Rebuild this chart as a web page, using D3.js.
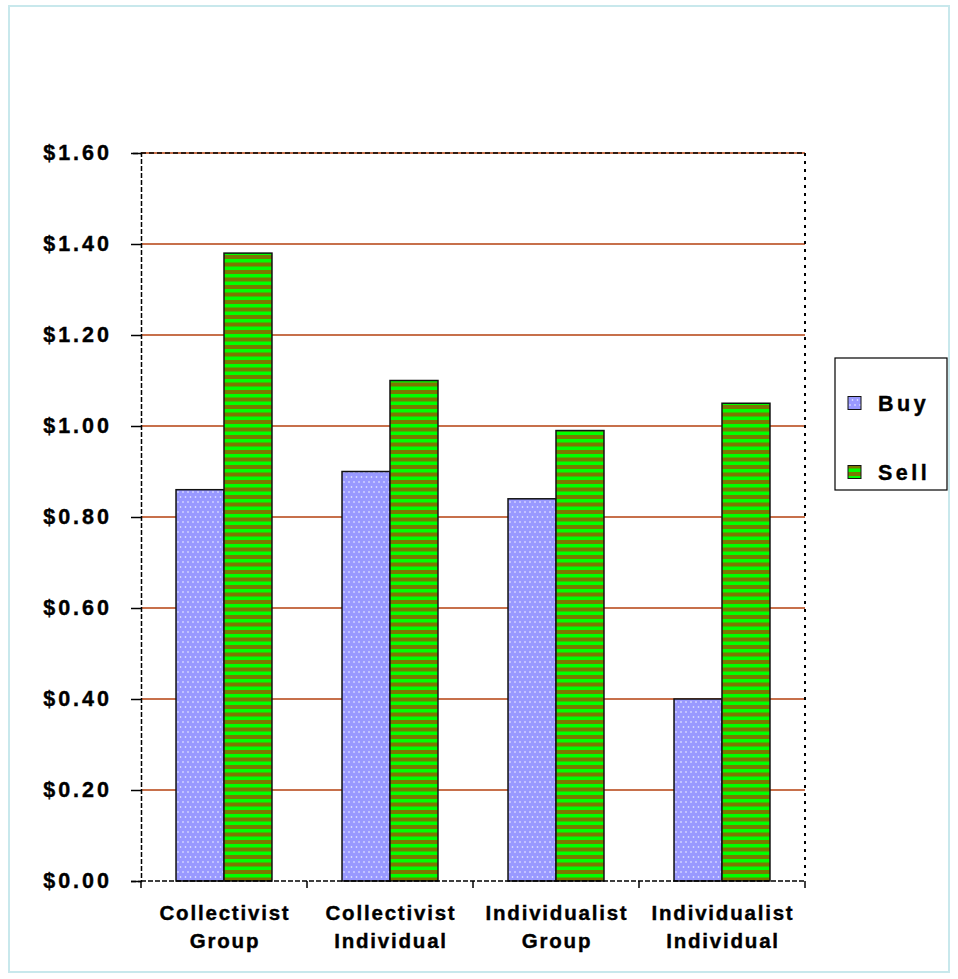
<!DOCTYPE html>
<html>
<head>
<meta charset="utf-8">
<script src="https://cdn.jsdelivr.net/npm/d3@7"></script>
<style>
  html, body { margin: 0; padding: 0; background: #fff; }
  svg text { font-family: "Liberation Sans", Arial, sans-serif; font-weight: bold; fill: #000; }
</style>
</head>
<body>
<svg id="chart" width="958" height="979"></svg>
<script>
// Average price by condition, buyers vs sellers
const categories = [
  ["Collectivist", "Group"],
  ["Collectivist", "Individual"],
  ["Individualist", "Group"],
  ["Individualist", "Individual"]
];
const seriesNames = ["Buy", "Sell"];
const buyValues  = [0.86, 0.90, 0.84, 0.40];
const sellValues = [1.38, 1.10, 0.99, 1.05];
const yTicks = [0, 0.2, 0.4, 0.6, 0.8, 1.0, 1.2, 1.4, 1.6];

const svg = d3.select("#chart");
const defs = svg.append("defs");

// Dotted lavender fill for "Buy"
const pBuy = defs.append("pattern").attr("id", "pBuy")
  .attr("patternUnits", "userSpaceOnUse").attr("width", 10).attr("height", 10);
pBuy.append("rect").attr("width", 10).attr("height", 10).attr("fill", "#9999ff");
[[2, 2], [7, 2], [4.5, 7], [9.5, 7], [-0.5, 7]].forEach(([cx, cy]) =>
  pBuy.append("rect").attr("x", cx - 0.7).attr("y", cy - 0.7).attr("width", 1.4).attr("height", 1.4).attr("fill", "#eceeff"));

// Horizontal green/olive stripes for "Sell"
const pSell = defs.append("pattern").attr("id", "pSell")
  .attr("patternUnits", "userSpaceOnUse").attr("width", 15).attr("height", 15);
pSell.append("rect").attr("width", 15).attr("height", 15).attr("fill", "#00ff00");
pSell.append("rect").attr("y", 0).attr("width", 15).attr("height", 4).attr("fill", "#7a7800");
pSell.append("rect").attr("y", 7.5).attr("width", 15).attr("height", 4).attr("fill", "#7a7800");

const fills = { Buy: "url(#pBuy)", Sell: "url(#pSell)" };

// Outer chart border
svg.append("rect").attr("x", 9).attr("y", 6).attr("width", 940).attr("height", 966)
  .attr("fill", "none").attr("stroke", "#c8e8ec").attr("stroke-width", 2);

const plot = { left: 141, top: 153, right: 805, bottom: 881 };

const y = d3.scaleLinear().domain([0, 1.6]).range([plot.bottom, plot.top]);
const x0 = d3.scaleBand().domain(d3.range(categories.length))
  .range([plot.left, plot.right]).padding(0);
const x1 = d3.scaleBand().domain(seriesNames)
  .range([0, x0.bandwidth()]).paddingInner(0).paddingOuter(0.73);

// Gridlines
svg.append("g").selectAll("line").data(yTicks.filter(d => d > 0)).join("line")
  .attr("x1", plot.left).attr("x2", plot.right)
  .attr("y1", d => y(d)).attr("y2", d => y(d))
  .attr("stroke", "#b5410f").attr("stroke-width", 1.5);

// Plot area border (top dashed, right dotted)
svg.append("line").attr("x1", plot.left).attr("x2", plot.right)
  .attr("y1", plot.top).attr("y2", plot.top)
  .attr("stroke", "#000").attr("stroke-width", 1.5).attr("stroke-dasharray", "5,3");
svg.append("line").attr("x1", plot.right).attr("x2", plot.right)
  .attr("y1", plot.top).attr("y2", plot.bottom)
  .attr("stroke", "#000").attr("stroke-width", 2).attr("stroke-dasharray", "3,5");

// Bars
const rows = categories.map((c, i) => ({ i, values: { Buy: buyValues[i], Sell: sellValues[i] } }));
const groups = svg.append("g").selectAll("g").data(rows).join("g")
  .attr("transform", d => `translate(${x0(d.i)},0)`);
groups.selectAll("rect").data(d => seriesNames.map(s => ({ s, v: d.values[s] }))).join("rect")
  .attr("x", d => x1(d.s)).attr("width", x1.bandwidth())
  .attr("y", d => y(d.v)).attr("height", d => y(0) - y(d.v))
  .attr("fill", d => fills[d.s])
  .attr("stroke", "#111").attr("stroke-width", 1.5);

// Y axis
const yAxis = svg.append("g").attr("transform", `translate(${plot.left},0)`)
  .call(d3.axisLeft(y).tickValues(yTicks).tickSize(10).tickPadding(19)
    .tickFormat(d => "$" + d3.format(".2f")(d)));
yAxis.select(".domain").attr("stroke", "#000").attr("stroke-width", 1.5).attr("stroke-dasharray", "5,2");
yAxis.selectAll(".tick line").attr("stroke", "#000").attr("stroke-width", 1.5);
yAxis.selectAll("text").attr("font-size", 21.5).attr("letter-spacing", 3)
  .attr("font-family", "'Liberation Sans', Arial, sans-serif").attr("font-weight", "bold")
  .attr("stroke", "#000").attr("stroke-width", 0.4);

// X axis: ticks on category boundaries
const xAxis = svg.append("g").attr("transform", `translate(0,${plot.bottom})`);
xAxis.append("line").attr("x1", plot.left).attr("x2", plot.right)
  .attr("stroke", "#000").attr("stroke-width", 1.5).attr("stroke-dasharray", "5,2");
const bounds = d3.range(categories.length + 1).map(i => i < categories.length ? x0(i) : plot.right);
xAxis.selectAll(".xt").data(bounds).join("line").attr("class", "xt")
  .attr("x1", d => d).attr("x2", d => d).attr("y1", 0).attr("y2", 7)
  .attr("stroke", "#000").attr("stroke-width", 1.5);
const xl = xAxis.selectAll(".xl").data(categories).join("text").attr("class", "xl")
  .attr("text-anchor", "middle").attr("font-size", 20.5).attr("letter-spacing", 1.8)
  .attr("stroke", "#000").attr("stroke-width", 0.4);
xl.selectAll("tspan").data((d, i) => d.map(t => ({ t, i }))).join("tspan")
  .attr("x", d => x0(d.i) + x0.bandwidth() / 2 + 1)
  .attr("y", (d, j) => j === 0 ? 39 : 67)
  .text(d => d.t);

// Legend
const legend = svg.append("g").attr("transform", "translate(835,358)");
legend.append("rect").attr("width", 112).attr("height", 132)
  .attr("fill", "#fff").attr("stroke", "#000").attr("stroke-width", 1.2);
const li = legend.selectAll(".li").data(seriesNames).join("g").attr("class", "li")
  .attr("transform", (d, i) => `translate(13,${45 + i * 69})`);
li.append("rect").attr("x", 0).attr("y", -6.5).attr("width", 13).attr("height", 13)
  .attr("fill", d => fills[d]).attr("stroke", "#111").attr("stroke-width", 1);
li.append("text").attr("x", 30).attr("y", 7.5).attr("font-size", 21.5).attr("letter-spacing", 3.5)
  .attr("stroke", "#000").attr("stroke-width", 0.4)
  .text(d => d);
</script>
</body>
</html>
